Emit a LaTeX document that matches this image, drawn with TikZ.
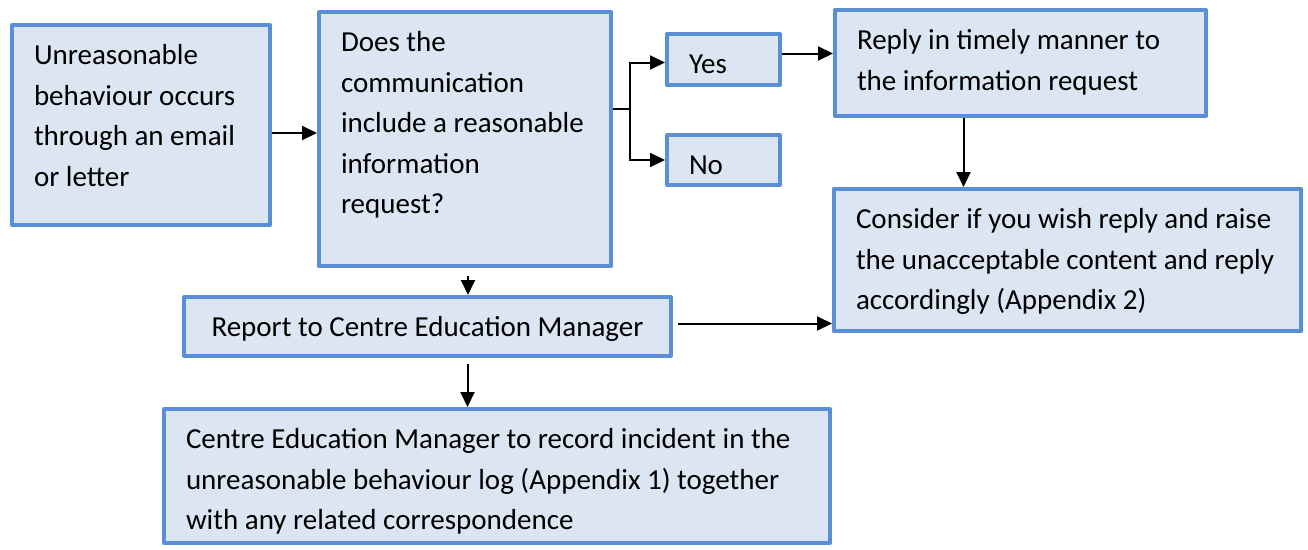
\documentclass[tikz,border=0pt]{standalone}
\usepackage{fontspec}
\setmainfont{Carlito}
\usetikzlibrary{arrows.meta}
\definecolor{boxblue}{HTML}{5B8FD5}
\definecolor{boxfill}{HTML}{DCE6F2}
\newcommand{\boxtext}[3]{\parbox[c][#1][t]{#2}{\begin{tabular}{@{}l@{}}#3\end{tabular}}}
\tikzstyle{flowbox} = [rectangle, anchor=north west, draw=boxblue, line width=4pt, line join=round, fill=boxfill, inner xsep=22pt, inner ysep=11.6pt, font=\fontsize{29}{40.5}\selectfont]
\tikzstyle{arrow} = [line width=2pt, -{Triangle[length=15pt,width=14pt]}]
\begin{document}
\begin{tikzpicture}[x=1pt,y=-1pt]
\useasboundingbox (0,0) rectangle (1308,549);
\node (start) [flowbox] at (10,23) {\boxtext{176.8pt}{214pt}{Unreasonable\\behaviour occurs\\through an email\\or letter}};
\node (question) [flowbox] at (317,10) {\boxtext{230.8pt}{248pt}{Does the\\communication\\include a reasonable\\information\\request?}};
\node (yes) [flowbox] at (665,32) {\boxtext{27.8pt}{69pt}{Yes}};
\node (no) [flowbox] at (665,133) {\boxtext{26.8pt}{69pt}{No}};
\node (reply) [flowbox] at (833,8) {\boxtext{82.8pt}{327pt}{Reply in timely manner to\\the information request}};
\node (consider) [flowbox] at (832,187) {\boxtext{118.8pt}{423pt}{Consider if you wish reply and raise\\the unacceptable content and reply\\accordingly (Appendix 2)}};
\node (report) [flowbox] at (182,295) {\parbox[c][35.8pt][t]{443pt}{\centering\begin{tabular}{@{}c@{}}Report to Centre Education Manager\end{tabular}}};
\node (record) [flowbox] at (162,407) {\boxtext{110.8pt}{622pt}{Centre Education Manager to record incident in the\\unreasonable behaviour log (Appendix 1) together\\with any related correspondence}};
\draw [arrow] ([yshift=-8pt]start.east) -- ([yshift=-8pt]start.east -| question.west);
\coordinate (split) at ([yshift=30pt]question.east);
\draw [line width=2pt] (split) -- ++(17,0) coordinate (fork);
\draw [arrow] (fork) |- ([yshift=-3pt]yes.west);
\draw [arrow] (fork) |- (no.west);
\draw [arrow] ([yshift=6pt]yes.east) -- ([yshift=6pt]yes.east -| reply.west);
\draw [arrow] ([xshift=-57pt]reply.south) -- ([xshift=-57pt]reply.south |- consider.north);
\draw [arrow] ([xshift=3pt,yshift=-8pt]question.south) -- ([xshift=3pt]question.south |- report.north);
\draw [arrow] ([xshift=5pt,yshift=3pt]report.east) -- ([yshift=3pt]report.east -| consider.west);
\draw [arrow] ([xshift=40pt,yshift=-6pt]report.south) -- ([xshift=40pt]report.south |- record.north);
\end{tikzpicture}
\end{document}
